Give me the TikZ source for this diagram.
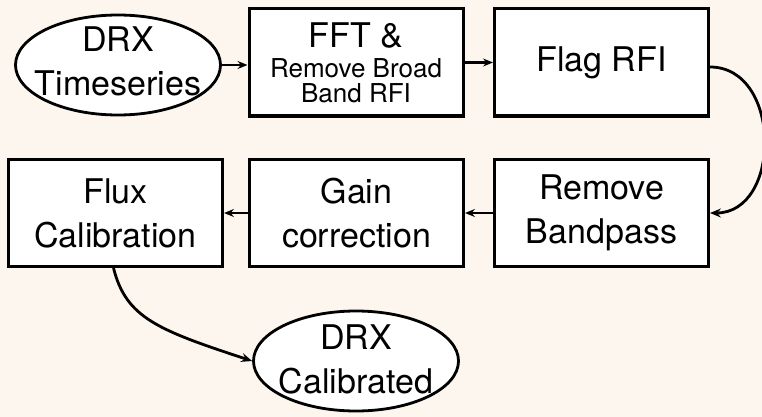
\documentclass[tikz,border=0pt]{standalone}
\usepackage{fontspec}
\setmainfont{TeX Gyre Heros}
\usetikzlibrary{shapes.geometric,arrows.meta}
\definecolor{paper}{RGB}{253,246,238}
\newcommand\bigtxt{\fontsize{34}{44}\selectfont}
\newcommand\smalltxt{\fontsize{26}{26}\selectfont}
\begin{document}
\begin{tikzpicture}[x=1pt,y=-1pt,
  stage/.style={draw, line width=3pt, fill=white, minimum width=214pt,
    minimum height=107pt, inner sep=0pt, align=center, font=\bigtxt},
  dataset/.style={draw, ellipse, line width=2.8pt, fill=white,
    minimum width=205pt, minimum height=100pt, inner sep=0pt},
  caption/.style={align=center, font=\bigtxt, inner sep=0pt},
  flow/.style={line width=2.4pt, -{Stealth[length=10pt,width=8pt,inset=3.5pt]}},
  curvedflow/.style={line width=2.8pt, -{Stealth[length=11pt,width=9pt,inset=4pt]}}]
  % canvas
  \fill[paper] (0,0) rectangle (762,417);
  \useasboundingbox (0,0) rectangle (762,417);

  % input / output data
  \node[dataset] (ts) at (118,65) {};
  \node[caption] (tslbl) at ([yshift=3.5pt]ts.center) {DRX\\Timeseries};
  \node[dataset] (cal) at (356,361) {};
  \node[caption] (callbl) at ([yshift=2pt]cal.center) {DRX\\Calibrated};

  % processing stages
  \node[stage] (fft) at (356,62.5) {FFT \&\\[-14pt]{\smalltxt Remove Broad}\\[-19pt]{\smalltxt Band RFI}};
  \node[stage] (flag) at (601.5,62.5) {Flag RFI};
  \node[stage] (bp) at (601.5,213) {Remove\\Bandpass};
  \node[stage] (gain) at (356.5,213) {Gain\\correction};
  \node[stage] (flux) at (115.5,213) {Flux\\Calibration};

  % connectors
  \draw[flow] (ts.east) -- (ts.east -| fft.west);
  \draw[flow] (fft.east) -- (flag.west);
  \draw[curvedflow] ([yshift=-4.5pt]flag.east) .. controls +(72,0) and +(72,0) .. (bp.east);
  \draw[flow] (bp.west) -- (gain.east);
  \draw[flow] (gain.west) -- (flux.east);
  \draw[curvedflow] ([xshift=-2pt]flux.south) .. controls (126,318) and (158,330) .. (cal.west);
\end{tikzpicture}
\end{document}
